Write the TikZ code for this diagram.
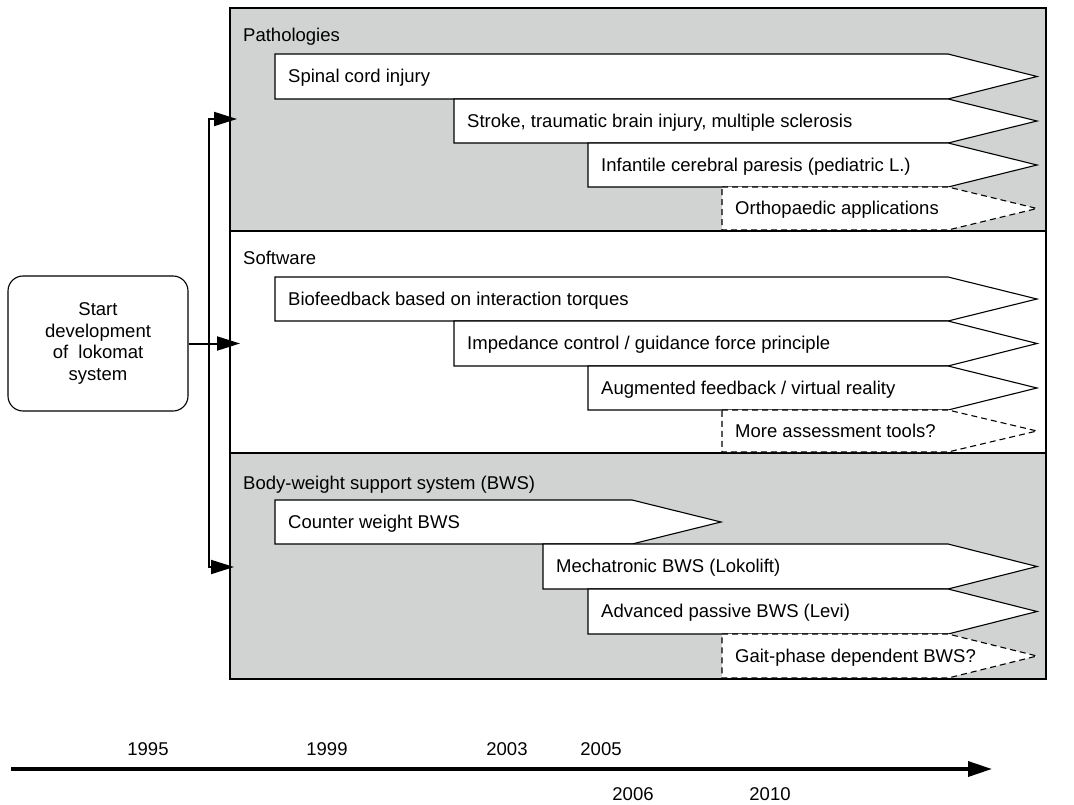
\documentclass[tikz,border=0pt]{standalone}
\usepackage{fontspec}
\setmainfont{Liberation Sans}
\usetikzlibrary{arrows.meta}
\definecolor{panelgray}{RGB}{209,211,210}
\newcommand{\stage}[7][solidbar]{\draw[#1] (#3,#4) -- (#6,#4) -- (#6+89,{(#4+#5)/2}) -- (#6,#5) -- (#3,#5) -- cycle;
	\node[stagetext] (#2) at (#3+13,{(#4+#5)/2+3}) {#7}}

\begin{document}
\begin{tikzpicture}[x=1pt,y=-1pt,
	every node/.style={font=\fontsize{18.5}{21.7}\selectfont},
	solidbar/.style={draw,fill=white,line width=1.1pt},
	guessbar/.style={solidbar,dash pattern=on 6pt off 4pt},
	stagetext/.style={anchor=west,inner sep=0pt,text height=1.5ex,text depth=.25ex},
	paneltitle/.style={anchor=base west,inner sep=0pt},
	feed/.style={-{Triangle[length=23pt,width=14pt]},line width=2pt},
	timeline/.style={-{Triangle[length=24pt,width=15pt]},line width=3.5pt}]
\useasboundingbox (0,0) rectangle (1074,805);
\fill[panelgray] (230,8) rectangle (1046,231);
\fill[white] (230,231) rectangle (1046,453);
\fill[panelgray] (230,453) rectangle (1046,679);
\draw[line width=1.5pt] (230,231) -- (1046,231);
\draw[line width=1.5pt] (230,453) -- (1046,453);
%
\node[paneltitle] (patho) at (243,42) {Pathologies};
\stage{spinal}{275}{54}{99}{948}{Spinal cord injury};
\stage{stroke}{454}{99}{143}{948}{Stroke, traumatic brain injury, multiple sclerosis};
\stage{infant}{588}{143}{187}{948}{Infantile cerebral paresis (pediatric L.)};
\stage[guessbar]{ortho}{722}{187}{230}{948}{Orthopaedic applications};
%
\node[paneltitle] (soft) at (243,265) {Software};
\stage{biofb}{275}{277}{321}{948}{Biofeedback based on interaction torques};
\stage{imped}{454}{321}{366}{948}{Impedance control / guidance force principle};
\stage{augm}{588}{366}{410}{948}{Augmented feedback / virtual reality};
\stage[guessbar]{assess}{722}{410}{452}{948}{More assessment tools?};
%
\node[paneltitle] (bws) at (243,489) {Body-weight support system (BWS)};
\stage{counter}{275}{500}{544}{632}{Counter weight BWS};
\stage{mechat}{543}{544}{589}{948}{Mechatronic BWS (Lokolift)};
\stage{levi}{588}{589}{634}{948}{Advanced passive BWS (Levi)};
\stage[guessbar]{gait}{722}{634}{678}{948}{Gait-phase dependent BWS?};
%
\draw[line width=2pt] (230,8) rectangle (1046,679);
%
\node[draw,line width=1.1pt,rounded corners=15pt,minimum width=180pt,minimum height=135pt,align=center]
	(start) at (98,343.5) {Start\\development\\of~~lokomat\\system};
\coordinate (branch) at (209,343.5);
\coordinate (pathoIn) at (237,119);
\coordinate (softIn) at (240,343.5);
\coordinate (bwsIn) at (234,567);
\draw[feed] (start.east) -- (softIn);
\draw[feed] (branch) |- (pathoIn);
\draw[feed] (branch) |- (bwsIn);
%
\coordinate (tstart) at (11,769);
\coordinate (tend) at (992,769);
\draw[timeline] (tstart) -- (tend);
\node (y1995) at (148,749) {1995};
\node (y1999) at (327,749) {1999};
\node (y2003) at (507,749) {2003};
\node (y2005) at (601,749) {2005};
\node (y2006) at (633,794) {2006};
\node (y2010) at (770,794) {2010};
\end{tikzpicture}
\end{document}
